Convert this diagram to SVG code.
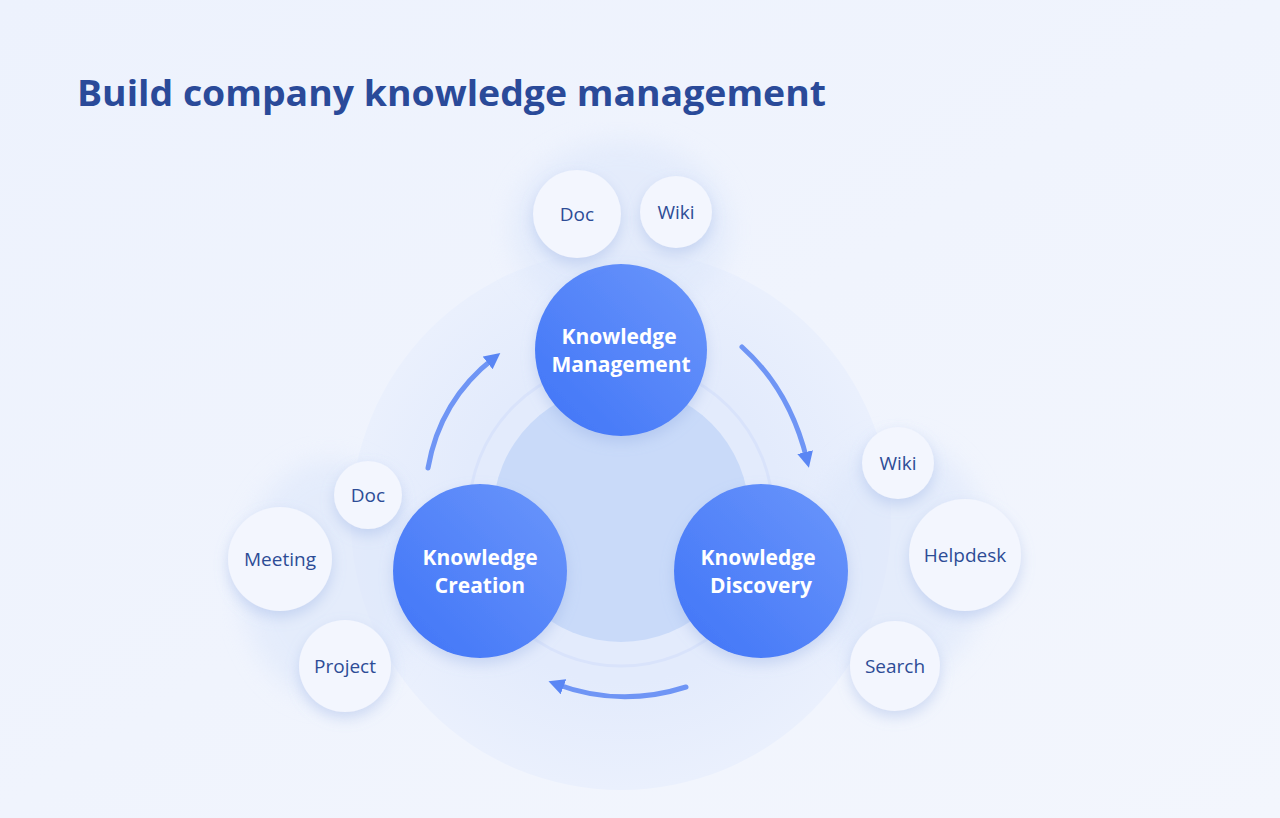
<svg xmlns="http://www.w3.org/2000/svg" width="1280" height="818" viewBox="0 0 1280 818">
<defs>
<linearGradient id="bg" x1="0" y1="0" x2="1" y2="1"><stop offset="0" stop-color="#edf2fd"/><stop offset="1" stop-color="#f3f6fd"/></linearGradient>
<linearGradient id="big" x1="0" y1="1" x2="1" y2="0"><stop offset="0" stop-color="#3f74f7"/><stop offset="1" stop-color="#6b96fb"/></linearGradient>
<radialGradient id="halo" cx="0.5" cy="0.5" r="0.5"><stop offset="0.6" stop-color="#e3ebfc"/><stop offset="1" stop-color="#eaf0fd"/></radialGradient>
<filter id="sh" x="-50%" y="-50%" width="200%" height="200%"><feDropShadow dx="0" dy="6" stdDeviation="7" flood-color="#8aa6e0" flood-opacity="0.35"/></filter>
<filter id="blur"><feGaussianBlur stdDeviation="12"/></filter>
<marker id="ah" viewBox="0 0 10 10" refX="5" refY="5" markerWidth="3.2" markerHeight="3.2" orient="auto"><path d="M0,0 L10,5 L0,10 Z" fill="#5a86f4"/></marker>
<style>
.sm{fill:#f3f6fe;filter:url(#sh)}
.bg{fill:url(#big)}
.t{font-family:"Open Sans","Liberation Sans",sans-serif;}
.st{font-size:19px;fill:#2d4c96;text-anchor:middle}
.bt{font-size:21px;font-weight:bold;fill:#fff;text-anchor:middle}
.ar{fill:none;stroke:#6f95f5;stroke-width:5;stroke-linecap:round;marker-end:url(#ah)}
</style>
</defs>
<rect width="1280" height="818" fill="url(#bg)"/>
<text x="77" y="106" class="t" font-size="35" font-weight="bold" fill="#2a4a99" textLength="749" lengthAdjust="spacingAndGlyphs">Build company knowledge management</text>
<g id="backdrop">
<circle cx="621" cy="520" r="270" fill="url(#halo)"/>
<ellipse cx="621" cy="230" rx="110" ry="90" fill="#dde7fb" opacity="0.6" filter="url(#blur)"/>
<ellipse cx="900" cy="560" rx="90" ry="120" fill="#dde7fb" opacity="0.6" filter="url(#blur)"/>
<ellipse cx="330" cy="580" rx="90" ry="120" fill="#dde7fb" opacity="0.6" filter="url(#blur)"/>
<circle cx="621" cy="514" r="152" fill="none" stroke="#d9e3fb" stroke-width="3"/>
<circle cx="621" cy="514" r="128" fill="#c9daf9"/>
</g>
<g id="connectors">
<path class="ar" d="M428,468 Q440,400 494,358"/>
<path class="ar" d="M742,347 Q790,390 807,460"/>
<path class="ar" d="M686,687 Q620,708 556,684"/>
</g>
<g id="n-km"><circle cx="621" cy="350" r="86" class="bg" filter="url(#sh)"/><text class="t bt" x="619" y="344">Knowledge</text><text class="t bt" x="621" y="372">Management</text></g>
<g id="n-kc"><circle cx="480" cy="571" r="87" class="bg" filter="url(#sh)"/><text class="t bt" x="480" y="565">Knowledge</text><text class="t bt" x="480" y="593">Creation</text></g>
<g id="n-kd"><circle cx="761" cy="571" r="87" class="bg" filter="url(#sh)"/><text class="t bt" x="758" y="565">Knowledge</text><text class="t bt" x="761" y="593">Discovery</text></g>
<g id="n-doc1"><circle cx="577" cy="214" r="44" class="sm"/><text class="t st" x="577" y="221">Doc</text></g>
<g id="n-wiki1"><circle cx="676" cy="212" r="36" class="sm"/><text class="t st" x="676" y="219">Wiki</text></g>
<g id="n-wiki2"><circle cx="898" cy="463" r="36" class="sm"/><text class="t st" x="898" y="470">Wiki</text></g>
<g id="n-helpdesk"><circle cx="965" cy="555" r="56" class="sm"/><text class="t st" x="965" y="562">Helpdesk</text></g>
<g id="n-search"><circle cx="895" cy="666" r="45" class="sm"/><text class="t st" x="895" y="673">Search</text></g>
<g id="n-doc2"><circle cx="368" cy="495" r="34" class="sm"/><text class="t st" x="368" y="502">Doc</text></g>
<g id="n-meeting"><circle cx="280" cy="559" r="52" class="sm"/><text class="t st" x="280" y="566">Meeting</text></g>
<g id="n-project"><circle cx="345" cy="666" r="46" class="sm"/><text class="t st" x="345" y="673">Project</text></g>
</svg>
